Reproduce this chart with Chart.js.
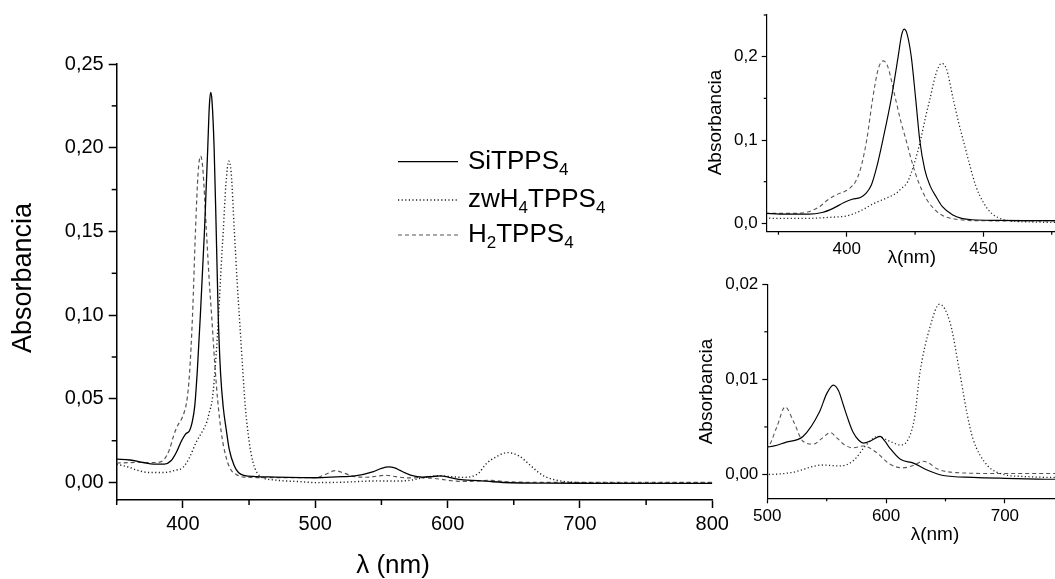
<!DOCTYPE html>
<html>
<head>
<meta charset="utf-8">
<script src="https://cdn.jsdelivr.net/npm/chart.js@4"></script>
<style>
  html, body { margin: 0; padding: 0; background: #fff; overflow: hidden; }
  .box { position: absolute; }
</style>
</head>
<body>
<div class="box" style="left:0;top:0;"><canvas id="main" width="740" height="579"></canvas></div>
<div class="box" style="left:690px;top:0;"><canvas id="ins1" width="365" height="270"></canvas></div>
<div class="box" style="left:690px;top:270px;"><canvas id="ins2" width="365" height="309"></canvas></div>
<script>
// ---------------- DATA ----------------
const seriesLabels = ['SiTPPS_4', 'zwH_4TPPS_4', 'H_2TPPS_4'];

const siWl = [350, 360, 370, 378, 386, 391, 395, 399, 402, 405, 407, 409, 411, 413.2, 416.3, 418.8, 420, 421, 422, 423.6, 425.2, 426.7, 428.5, 430.5, 432.7, 435, 438.8, 442, 446, 455, 470, 490, 500, 516, 530, 544, 550, 555.6, 560, 564, 568, 572, 577, 581, 588, 595, 599, 603, 612, 623, 634, 648, 673, 700, 740, 800];
const siAbs = [0.014, 0.0135, 0.012, 0.011, 0.011, 0.013, 0.018, 0.025, 0.029, 0.031, 0.036, 0.046, 0.068, 0.1, 0.15, 0.2, 0.225, 0.233, 0.228, 0.2, 0.15, 0.1, 0.065, 0.045, 0.032, 0.02, 0.01, 0.006, 0.0043, 0.0036, 0.0033, 0.003, 0.0029, 0.0034, 0.004, 0.0066, 0.0085, 0.0094, 0.0088, 0.0073, 0.0058, 0.0045, 0.0036, 0.0033, 0.0036, 0.004, 0.0035, 0.0028, 0.0016, 0.0012, 0.0005, -0.0001, -0.0003, -0.0004, -0.0005, -0.0005];

const zwWl = [350, 360, 365, 375, 385, 395, 400, 405, 410, 415, 418, 420, 422.3, 425, 427, 429, 430.5, 432.5, 434.7, 436.5, 438.9, 441, 443, 445, 447.2, 450, 453, 456, 460, 470, 490, 500, 520, 547, 561, 572, 584, 593, 603, 612, 619, 624, 628.5, 637, 645, 654, 662, 668, 673, 685, 699, 715, 740, 770, 800];
const zwAbs = [0.011, 0.009, 0.0075, 0.006, 0.006, 0.0075, 0.009, 0.015, 0.024, 0.031, 0.036, 0.042, 0.05, 0.075, 0.1, 0.13, 0.15, 0.178, 0.192, 0.185, 0.15, 0.12, 0.095, 0.07, 0.045, 0.025, 0.012, 0.006, 0.003, 0.0015, 0.0005, 0.0, 0.0002, 0.001, 0.0009, 0.0014, 0.0032, 0.004, 0.0035, 0.0031, 0.0038, 0.006, 0.0107, 0.0155, 0.0179, 0.0159, 0.0107, 0.0065, 0.0038, 0.001, 0.0, -0.0002, -0.0003, -0.0003, -0.0003];

const h2Wl = [350, 365, 380, 386, 390, 393, 396, 399, 401, 403.2, 405, 407.3, 409.5, 411.5, 413.4, 415, 417.8, 419.8, 421.7, 424, 426.2, 429, 432.7, 436, 440, 446, 460, 480, 500, 508, 515, 522, 530, 539, 546, 553, 559, 564, 572, 581, 592, 603, 614, 624, 631, 636, 643, 659, 700, 740, 800];
const h2Abs = [0.0117, 0.012, 0.012, 0.014, 0.02, 0.028, 0.034, 0.038, 0.042, 0.05, 0.065, 0.1, 0.15, 0.185, 0.195, 0.188, 0.15, 0.122, 0.1, 0.072, 0.05, 0.03, 0.015, 0.008, 0.005, 0.0033, 0.003, 0.003, 0.0029, 0.005, 0.0071, 0.0056, 0.0035, 0.0032, 0.0038, 0.0044, 0.0038, 0.0032, 0.0028, 0.003, 0.0023, 0.0011, 0.0007, 0.001, 0.0014, 0.0012, 0.0006, 0.0002, 0.0001, 0.0001, 0.0001];

// tick values and labels
const mainXTicks = [400, 500, 600, 700, 800];
const mainXLabels = ['400', '500', '600', '700', '800'];
const mainXMinor = [350, 450, 550, 650, 750];
const mainYTicks = [0, 0.05, 0.10, 0.15, 0.20, 0.25];
const mainYLabels = ['0,00', '0,05', '0,10', '0,15', '0,20', '0,25'];
const mainYMinor = [0.025, 0.075, 0.125, 0.175, 0.225];

const ins1XTicks = [400, 450];
const ins1XLabels = ['400', '450'];
const ins1XMinor = [375, 425, 475];
const ins1YTicks = [0, 0.1, 0.2];
const ins1YLabels = ['0,0', '0,1', '0,2'];
const ins1YMinor = [0.05, 0.15, 0.25];

const ins2XTicks = [500, 600, 700];
const ins2XLabels = ['500', '600', '700'];
const ins2XMinor = [550, 650];
const ins2YTicks = [0, 0.01, 0.02];
const ins2YLabels = ['0,00', '0,01', '0,02'];
const ins2YMinor = [0.005, 0.015];

const yTitle = 'Absorbancia';
const xTitleMain = 'λ (nm)';
const xTitleInset = 'λ(nm)';

// ---------------- HELPERS ----------------
const FONT = '"Liberation Sans", Arial, Helvetica, sans-serif';
const pts = (wl, ab) => wl.map((x, i) => ({ x: x, y: ab[i] }));
const plainLabel = s => s.replace(/_(\d)/g, (m, d) => String.fromCharCode(0x2080 + Number(d)));

function makeDatasets(scaleW) {
  return [
    { label: plainLabel(seriesLabels[0]), data: pts(siWl, siAbs), borderColor: '#000', borderWidth: 1.3 * scaleW, borderDash: [] },
    { label: plainLabel(seriesLabels[1]), data: pts(zwWl, zwAbs), borderColor: '#222', borderWidth: 1.4 * scaleW, borderDash: [1.2, 2.4] },
    { label: plainLabel(seriesLabels[2]), data: pts(h2Wl, h2Abs), borderColor: '#555', borderWidth: 1.2 * scaleW, borderDash: [4, 3] }
  ].map(d => Object.assign(d, { pointRadius: 0, fill: false, cubicInterpolationMode: 'monotone' }));
}

function richParts(s) {
  const parts = [];
  const re = /_(\d)|([^_]+)/g;
  let m;
  while ((m = re.exec(s)) !== null) {
    if (m[1] !== undefined) parts.push({ t: m[1], sub: true });
    else parts.push({ t: m[2], sub: false });
  }
  return parts;
}

function drawRich(ctx, text, x, baseline, size, subSize, subDrop) {
  let cx = x;
  richParts(text).forEach(p => {
    ctx.font = (p.sub ? subSize : size) + 'px ' + FONT;
    ctx.fillText(p.t, cx, p.sub ? baseline + subDrop : baseline);
    cx += ctx.measureText(p.t).width;
  });
}

const extras = {
  id: 'extras',
  afterDraw(chart, args, o) {
    const ctx = chart.ctx;
    ctx.save();
    ctx.fillStyle = '#000';
    ctx.strokeStyle = '#000';
    (o.minor || []).forEach(m => {
      const sc = chart.scales[m.axis];
      ctx.lineWidth = m.width;
      m.values.forEach(v => {
        const p = sc.getPixelForValue(v);
        ctx.beginPath();
        if (sc.isHorizontal()) { ctx.moveTo(p, sc.top); ctx.lineTo(p, sc.top + m.len); }
        else { ctx.moveTo(sc.right, p); ctx.lineTo(sc.right - m.len, p); }
        ctx.stroke();
      });
    });
    (o.titles || []).forEach(t => {
      ctx.save();
      ctx.font = t.size + 'px ' + FONT;
      ctx.textAlign = 'center';
      ctx.textBaseline = 'middle';
      ctx.translate(t.x, t.y);
      ctx.rotate(t.rot || 0);
      ctx.fillText(t.text, 0, 0);
      ctx.restore();
    });
    if (o.legend) {
      const L = o.legend;
      chart.data.datasets.forEach((ds, i) => {
        const y = L.ys[i];
        ctx.save();
        ctx.strokeStyle = ds.borderColor;
        ctx.lineWidth = ds.borderWidth;
        ctx.setLineDash(ds.borderDash || []);
        ctx.beginPath();
        ctx.moveTo(L.x0, y);
        ctx.lineTo(L.x1, y);
        ctx.stroke();
        ctx.restore();
        ctx.textAlign = 'left';
        ctx.textBaseline = 'alphabetic';
        drawRich(ctx, seriesLabels[i], L.tx, y + L.base, L.size, L.subSize, L.subDrop);
      });
    }
    ctx.restore();
  }
};

function axisCfg(o) {
  return {
    type: 'linear',
    min: o.min, max: o.max,
    afterFit: s => { if (s.isHorizontal()) s.height = o.fit; else s.width = o.fit; },
    afterBuildTicks: s => { s.ticks = o.ticks.map(v => ({ value: v })); },
    grid: { drawOnChartArea: false, drawTicks: true, tickLength: o.tickLen, tickColor: '#000', tickWidth: o.lw },
    border: { display: true, color: '#000', width: o.lw },
    ticks: {
      color: '#000', padding: o.pad, autoSkip: false, maxRotation: 0,
      font: { family: FONT, size: o.font },
      callback: (v, i) => o.labels[i]
    },
    title: { display: false }
  };
}

function makeChart(id, o) {
  return new Chart(document.getElementById(id), {
    type: 'line',
    data: { datasets: makeDatasets(o.lineScale) },
    options: {
      responsive: false, animation: false, devicePixelRatio: 1,
      events: [],
      layout: { padding: o.padding },
      plugins: { legend: { display: false }, tooltip: { enabled: false }, extras: o.extras },
      scales: { x: axisCfg(o.x), y: axisCfg(o.y) }
    },
    plugins: [extras]
  });
}

// ---------------- MAIN CHART ----------------
makeChart('main', {
  lineScale: 1,
  padding: { left: 0, top: 64, right: 27.7, bottom: 0 },
  x: { min: 350, max: 800, fit: 79, ticks: mainXTicks, labels: mainXLabels, tickLen: 8, lw: 1.5, pad: 4, font: 20 },
  y: { min: -0.0104, max: 0.25, fit: 116.7, ticks: mainYTicks, labels: mainYLabels, tickLen: 8, lw: 1.5, pad: 5, font: 20 },
  extras: {
    minor: [
      { axis: 'x', values: mainXMinor, len: 5, width: 1.5 },
      { axis: 'y', values: mainYMinor, len: 5, width: 1.5 }
    ],
    titles: [
      { text: yTitle, x: 24, y: 278, size: 27, rot: -Math.PI / 2 },
      { text: xTitleMain, x: 393, y: 566, size: 26, rot: 0 }
    ],
    legend: { x0: 398, x1: 458, ys: [161.7, 200, 235], tx: 468, base: 7, size: 26, subSize: 17, subDrop: 6 }
  }
});

// ---------------- INSET 1 ----------------
makeChart('ins1', {
  lineScale: 0.9,
  padding: { left: 0, top: 15, right: 0, bottom: 0 },
  x: { min: 370.7, max: 476.2, fit: 38.3, ticks: ins1XTicks, labels: ins1XLabels, tickLen: 5, lw: 1.2, pad: 2, font: 17 },
  y: { min: -0.01, max: 0.25, fit: 76.7, ticks: ins1YTicks, labels: ins1YLabels, tickLen: 5, lw: 1.2, pad: 4, font: 17 },
  extras: {
    minor: [
      { axis: 'x', values: ins1XMinor, len: 3, width: 1.2 },
      { axis: 'y', values: ins1YMinor, len: 3, width: 1.2 }
    ],
    titles: [
      { text: yTitle, x: 26, y: 122.5, size: 19, rot: -Math.PI / 2 },
      { text: xTitleInset, x: 221.7, y: 258, size: 19, rot: 0 }
    ]
  }
});

// ---------------- INSET 2 ----------------
makeChart('ins2', {
  lineScale: 0.9,
  padding: { left: 0, top: 10, right: 0, bottom: 0 },
  x: { min: 500, max: 742.2, fit: 80.7, ticks: ins2XTicks, labels: ins2XLabels, tickLen: 5, lw: 1.2, pad: 3, font: 17 },
  y: { min: -0.0025, max: 0.02, fit: 77.3, ticks: ins2YTicks, labels: ins2YLabels, tickLen: 5, lw: 1.2, pad: 4, font: 17 },
  extras: {
    minor: [
      { axis: 'x', values: ins2XMinor, len: 3, width: 1.2 },
      { axis: 'y', values: ins2YMinor, len: 3, width: 1.2 }
    ],
    titles: [
      { text: yTitle, x: 17, y: 121.5, size: 19, rot: -Math.PI / 2 },
      { text: xTitleInset, x: 245, y: 265, size: 19, rot: 0 }
    ]
  }
});
</script>
</body>
</html>
